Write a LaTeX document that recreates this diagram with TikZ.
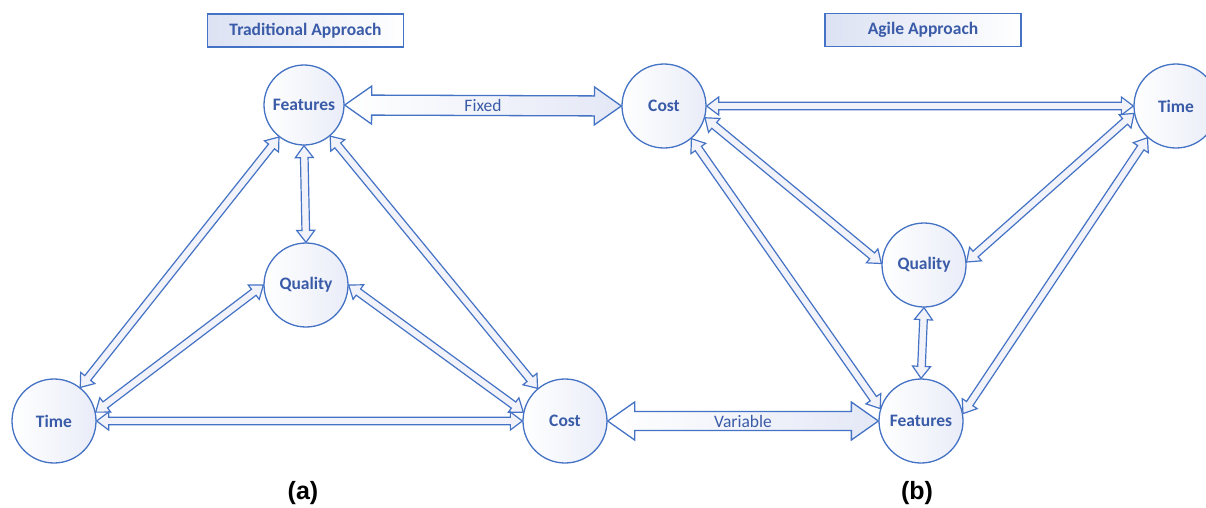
\documentclass[tikz,border=0pt]{standalone}
\usepackage{fontspec}
\setmainfont{Carlito}
\newfontfamily\labfont{Liberation Sans}
\usetikzlibrary{calc}
\definecolor{bl}{HTML}{4472C4}
\definecolor{tx}{HTML}{3A5BA8}
\definecolor{lav}{HTML}{E4E8F6}
\definecolor{tbox}{HTML}{DCE2F3}
% double-headed hollow arrow between two coordinates: [style]{A}{B}{head length}{head half width}{shaft half width}
\newcommand\darr[6][]{%
  \path[#1] (#2)
    -- ($(#2)!#4!(#3)!#5!90:(#3)$)
    -- ($(#2)!#4!(#3)!#6!90:(#3)$)
    -- ($(#3)!#4!(#2)!#6!-90:(#2)$)
    -- ($(#3)!#4!(#2)!#5!-90:(#2)$)
    -- (#3)
    -- ($(#3)!#4!(#2)!#5!90:(#2)$)
    -- ($(#3)!#4!(#2)!#6!90:(#2)$)
    -- ($(#2)!#4!(#3)!#6!-90:(#3)$)
    -- ($(#2)!#4!(#3)!#5!-90:(#3)$)
    -- cycle;}
\begin{document}
\begin{tikzpicture}[x=1pt,y=-1pt,
  circ/.style={circle, draw=bl, line width=1.3pt, minimum size=84pt, inner sep=0pt,
    left color=white, right color=lav!80, text=tx,
    font=\fontsize{17.5}{20}\selectfont\bfseries},
  titlebox/.style={draw=bl, line width=1.6pt, left color=tbox, right color=white,
    minimum width=196pt, minimum height=33pt, inner sep=0pt, text=tx,
    font=\fontsize{17.5}{20}\selectfont\bfseries},
  sarr/.style={draw=bl, line width=1.2pt, fill=lav!50, line join=miter},
  barr/.style={draw=bl, line width=1.3pt, left color=white, right color=lav, line join=miter},
  arrlabel/.style={text=tx, font=\fontsize{17.5}{20}\selectfont},
  sublabel/.style={text=black, font=\labfont\fontsize{25}{28}\selectfont\bfseries}]
\useasboundingbox (0,0) rectangle (1206,507);
\clip (0,0) rectangle (1206,507);
\fill[white] (0,0) rectangle (1206,507);

% titles
\node[titlebox] (ta) at (305.5,30.5) {Traditional Approach};
\node[titlebox] (tb) at (923,30) {Agile Approach};

% (a) nodes
\node[circ, minimum size=80pt] (Fa) at (304,105) {Features};
\node[circ] (Qa) at (306,285) {Quality};
\node[circ] (Ta) at (54,421) {Time};
\node[circ] (Ca) at (565,421) {Cost};

% (b) nodes
\node[circ] (Cb) at (664,106) {Cost};
\node[circ] (Tb) at (1176,106) {Time};
\node[circ] (Qb) at (924,265) {Quality};
\node[circ] (Fb) at (921,421) {Features};

% (a) connectors
\darr[sarr]{Fa.south}{Qa.north}{12pt}{9pt}{3.8pt}
\darr[sarr]{Fa.232}{Ta.52}{12pt}{9pt}{3.8pt}
\darr[sarr]{Fa.-50}{Ca.130}{12pt}{9pt}{3.8pt}
\darr[sarr]{Qa.west}{Ta.12}{12pt}{9pt}{3.8pt}
\darr[sarr]{Qa.east}{Ca.168}{12pt}{9pt}{3.8pt}
\darr[sarr]{Ta.east}{Ca.west}{12pt}{9pt}{3.8pt}

% (b) connectors
\darr[sarr]{Cb.east}{Tb.west}{12pt}{9pt}{3.8pt}
\darr[sarr]{Cb.-16}{Qb.178}{12pt}{9pt}{3.8pt}
\darr[sarr]{Cb.-50}{Fb.163}{12pt}{9pt}{3.8pt}
\darr[sarr]{Tb.190}{Qb.4}{12pt}{9pt}{3.8pt}
\darr[sarr]{Tb.228}{Fb.10}{12pt}{9pt}{3.8pt}
\darr[sarr]{Qb.south}{Fb.north}{12pt}{9pt}{3.8pt}

% big arrows
\darr[barr]{Fa.east}{Cb.west}{27pt}{19pt}{10pt}
\darr[barr]{Ca.east}{Fb.west}{27pt}{19pt}{9.5pt}
\node[arrlabel] (fx) at ($(Fa.east)!0.5!(Cb.west)$) {Fixed};
\node[arrlabel] (vr) at ($(Ca.east)!0.5!(Fb.west)$) {Variable};

% sub labels
\node[sublabel] (la) at (303,493) {(a)};
\node[sublabel] (lb) at (917,493) {(b)};
\end{tikzpicture}
\end{document}
